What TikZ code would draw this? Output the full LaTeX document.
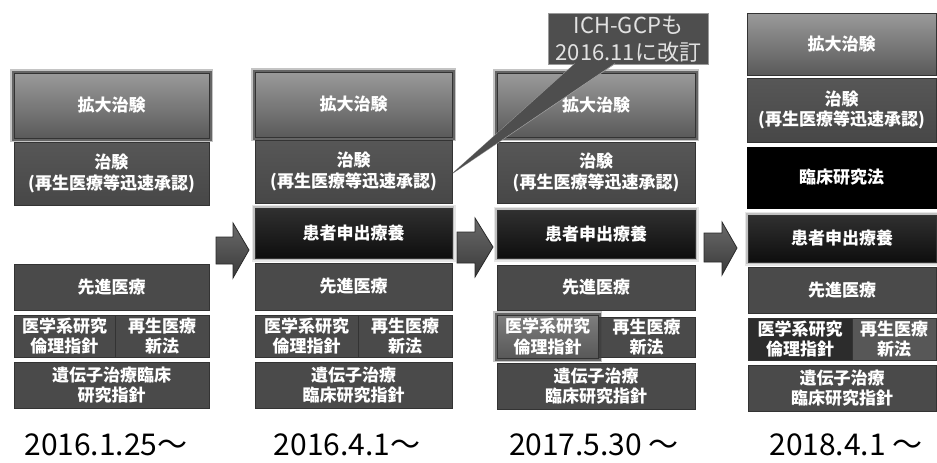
\documentclass[tikz,border=0pt]{standalone}
\usepackage{fontspec}
\setmainfont{Noto Sans CJK JP}
\usetikzlibrary{shapes.geometric}
\definecolor{kdtop}{HTML}{9A9A9A}
\definecolor{kdbot}{HTML}{5A5A5A}
\definecolor{chk}{HTML}{575757}
\definecolor{chkb}{HTML}{474747}
\definecolor{kjtop}{HTML}{303030}
\definecolor{kjbot}{HTML}{0E0E0E}
\definecolor{midg}{HTML}{4A4A4A}
\definecolor{edge}{HTML}{333333}
\definecolor{glowlight}{HTML}{B8B8B8}
\definecolor{glowdark}{HTML}{3E3E3E}
\definecolor{calfill}{HTML}{4E4E4E}
\definecolor{caledge}{HTML}{9A9A9A}
\definecolor{caltext}{HTML}{E2E2E2}
\definecolor{igtop}{HTML}{7E7E7E}
\definecolor{igbot}{HTML}{585858}
\definecolor{darkc}{HTML}{2C2C2C}
\definecolor{lightc}{HTML}{575757}
\definecolor{arredge}{HTML}{2A2A2A}
\definecolor{arrtop}{HTML}{6A6A6A}
\definecolor{arrbot}{HTML}{3A3A3A}
\newcommand{\bx}[7]{\node[#2,anchor=north west,minimum width={#5-#3},minimum height={#6-#4}] (#1) at (#3,#4) {#7};}
\begin{document}
\begin{tikzpicture}[x=1pt,y=-1pt,
  base/.style={draw=edge, line width=0.8pt, inner sep=0pt, outer sep=0pt, text=white, align=center,
    font=\bfseries\fontsize{17}{20.5}\selectfont},
  dglow/.style={preaction={draw=glowdark, line width=8pt, rounded corners=6pt, opacity=0.3},
    preaction={draw=glowdark, line width=5pt, rounded corners=4pt, opacity=0.7}},
  lglow/.style={preaction={draw=glowlight, line width=7pt, rounded corners=5pt, opacity=0.35},
    preaction={draw=glowlight, line width=4pt, rounded corners=3pt, opacity=0.8}},
  kakudai/.style={base, top color=kdtop, bottom color=kdbot},
  kakudaiglow/.style={kakudai, dglow},
  chiken/.style={base, top color=chk, bottom color=chkb},
  kanja/.style={base, top color=kjtop, bottom color=kjbot, lglow},
  plain/.style={base, fill=midg},
  rinsho/.style={base, fill=black, draw=black},
  igakulight/.style={base, top color=igtop, bottom color=igbot, dglow},
  darkcell/.style={base, fill=darkc},
  lightcell/.style={base, fill=lightc},
  blockarrow/.style={draw=arredge, line width=0.8pt, top color=arrtop, bottom color=arrbot, line join=miter},
  callout/.style={draw=caledge, line width=0.8pt, fill=calfill, text=caltext, align=center, inner sep=0pt,
    font=\fontsize{22}{27}\selectfont},
  date/.style={anchor=base, text=black, inner sep=0pt, font=\fontsize{30}{36}\selectfont}
]
\useasboundingbox (0,0) rectangle (937,463);
\fill[white] (0,0) rectangle (937,463);

% ---------- column 1 ----------
\bx{k1}{kakudaiglow}{14}{73}{209}{138}{拡大治験}
\bx{c1}{chiken}{14}{142}{209}{205}{治験\\(再生医療等迅速承認)}
\bx{s1}{plain}{14}{264}{209}{310}{先進医療}
\bx{ig1}{plain}{14}{315}{115}{357}{医学系研究\\倫理指針}
\bx{sa1}{plain}{115}{315}{209}{357}{再生医療\\新法}
\bx{id1}{plain}{14}{362}{209}{408}{遺伝子治療臨床\\研究指針}

% ---------- column 2 ----------
\bx{k2}{kakudaiglow}{255}{72}{452}{137}{拡大治験}
\bx{c2}{chiken}{255}{140}{452}{203}{治験\\(再生医療等迅速承認)}
\bx{p2}{kanja}{255}{208}{452}{258}{患者申出療養}
\bx{s2}{plain}{255}{263}{452}{310}{先進医療}
\bx{ig2}{plain}{255}{315}{358}{357}{医学系研究\\倫理指針}
\bx{sa2}{plain}{358}{315}{452}{357}{再生医療\\新法}
\bx{id2}{plain}{255}{362}{452}{408}{遺伝子治療\\臨床研究指針}

% ---------- column 3 ----------
\bx{k3}{kakudaiglow}{497}{73}{695}{137}{拡大治験}
\bx{c3}{chiken}{497}{142}{695}{203}{治験\\(再生医療等迅速承認)}
\bx{p3}{kanja}{497}{210}{695}{258}{患者申出療養}
\bx{s3}{plain}{497}{265}{695}{310}{先進医療}
\bx{sa3}{plain}{598}{317}{695}{357}{再生医療\\新法}
\bx{ig3}{igakulight}{497}{315}{598}{358}{医学系研究\\倫理指針}
\bx{id3}{plain}{497}{363}{695}{409}{遺伝子治療\\臨床研究指針}

% ---------- column 4 ----------
\bx{k4}{kakudai}{747}{13}{936}{75}{拡大治験}
\bx{c4}{chiken}{747}{78}{936}{142}{治験\\(再生医療等迅速承認)}
\bx{r4}{rinsho}{747}{147}{936}{208}{臨床研究法}
\bx{p4}{kanja}{748}{215}{936}{262}{患者申出療養}
\bx{s4}{plain}{748}{267}{936}{313}{先進医療}
\bx{ig4}{darkcell}{748}{318}{852}{360}{医学系研究\\倫理指針}
\bx{sa4}{lightcell}{852}{318}{936}{360}{再生医療\\新法}
\bx{id4}{plain}{748}{365}{936}{411}{遺伝子治療\\臨床研究指針}

% ---------- block arrows ----------
\path[blockarrow] (216,237) -- (233,237) -- (233,223) -- (249,250) -- (233,278) -- (233,264) -- (216,264) -- cycle;
\path[blockarrow] (457,232) -- (475,232) -- (475,218) -- (493,247) -- (475,277) -- (475,263) -- (457,263) -- cycle;
\path[blockarrow] (704,233) -- (722,233) -- (722,222) -- (737,248) -- (722,275) -- (722,262) -- (704,262) -- cycle;

% ---------- callout ----------
\node[callout, anchor=north west, minimum width=160, minimum height=51] (cal) at (548,13) {ICH-GCPも\\2016.11に改訂};
\coordinate (tip) at (453,173);
\coordinate (bl) at (575,63.6);
\coordinate (br) at (615,63.6);
\path[fill=calfill, draw=caledge, line width=0.8pt] (bl) -- (tip) -- (br);
\fill[calfill] ([xshift=0.8pt,yshift=0.6pt]bl) -- (tip) -- ([xshift=-0.8pt,yshift=0.6pt]br) -- cycle;

% ---------- dates ----------
\node[date] (d1) at (106,455) {2016.1.25～};
\node[date] (d2) at (347,455) {2016.4.1～};
\node[date] (d3) at (594,455) {2017.5.30 ～};
\node[date] (d4) at (846,455) {2018.4.1 ～};
\end{tikzpicture}
\end{document}
